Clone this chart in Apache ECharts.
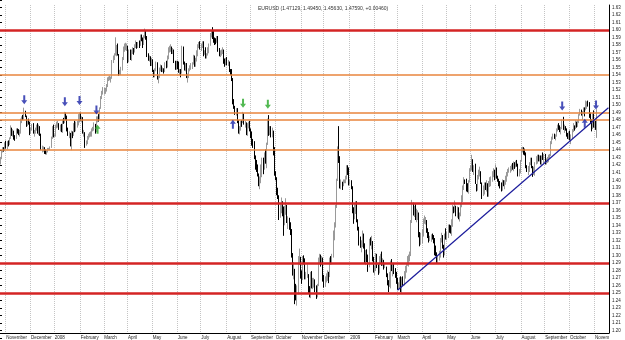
<!DOCTYPE html>
<html>
<head>
<meta charset="utf-8">
<script src="https://cdn.jsdelivr.net/npm/echarts@6/dist/echarts.min.js"></script>
<style>
html, body { margin: 0; padding: 0; background: #fff; }
#chart { width: 625px; height: 340px; }
</style>
</head>
<body>
<div id="chart"></div>
<script>
// EURUSD daily, 25 Oct 2007 .. 4 Nov 2009, values in pips above 1.0000
const titleText = 'EURUSD (1.47129, 1.49450, 1.45630, 1.47590, +0.00460)';
const firstOpenPips = 4230;

const closePips = [
  4295,4385,4420,4410,4490, // Oct 07
  4440,4500,4480,4560,4680,4620,4650,4580,4560,4670,4640,4630,4640,4800,4840,4810,4870,4850,4740,4800,4770,4630, // Nov 07
  4680,4740,4640,4640,4680,4720,4630,4710,4610,4420,4420,4420,4380,4360,4390,4410,4420,4440,4560,4710,4590, // Dec 07
  4590,4720,4750,4750,4690,4720,4660,4790,4770,4880,4850,4680,4620,4620,4480,4640,4620,4740,4660,4760,4780,4860,4860, // Jan 08
  4810,4830,4630,4630,4490,4500,4570,4590,4590,4600,4670,4690,4720,4650,4800,4830,4820,4960,5100,5170,5190, // Feb 08
  5190,5200,5260,5350,5350,5350,5360,5580,5640,5670,5740,5780,5680,5400,5440,5480,5620,5760,5770,5790,5790, // Mar 08
  5590,5720,5620,5720,5730,5720,5790,5810,5800,5810,5800,5920,5870,5810,5910,5990,5910,5670,5620,5640,5550,5610, // Apr 08
  5450,5380,5470,5560,5370,5380,5480,5500,5460,5470,5450,5550,5520,5640,5750,5760,5760,5710,5730,5580,5500,5550, // May 08
  5540,5450,5460,5430,5780,5570,5480,5540,5380,5390,5470,5510,5540,5560,5650,5530,5610,5690,5800,5820,5770, // Jun 08
  5800,5830,5690,5700,5650,5670,5700,5800,5940,5950,5940,5870,5860,5850,5910,5740,5680,5710,5710,5730,5580,5560,5600, // Jul 08
  5560,5560,5460,5440,5350,5030,4990,4910,4930,4780,4670,4700,4780,4770,4880,4760,4770,4630,4750,4760,4670, // Aug 08
  4640,4500,4470,4300,4260,4170,4080,3950,3970,4180,4280,4160,4340,4290,4490,4800,4600,4640,4620,4630,4410,4090, // Sep 08
  4030,3830,3790,3510,3610,3650,3530,3420,3610,3650,3450,3460,3390,3330,3000,2750,2850,2520,2480,2500,2940,2950,2730, // Oct 08
  2700,2970,2960,2710,2730,2740,2550,2500,2750,2580,2640,2640,2580,2500,2590,2930,3000,2930,2950,2690, // Nov 08
  2590,2700,2730,2740,2710,2940,2910,2980,3290,3380,3650,4000,4400,4260,3950,3950,3930,3980,3990,4040,4170,4140,3970, // Dec 08
  3980,3910,3600,3490,3620,3680,3480,3370,3170,3130,3150,3280,3130,2950,3010,2990,2830,3200,3160,3190,2950,2800, // Jan 09
  2810,3010,2850,2840,2960,3000,2920,2930,2850,2850,2740,2630,2580,2760,2900,2820,2880,2800,2770,2670, // Feb 09
  2590,2600,2660,2530,2670,2620,2770,2840,2890,2920,2950,3030,3450,3660,3580,3630,3520,3540,3550,3270,3190,3240, // Mar 09
  3280,3470,3480,3480,3340,3260,3220,3220,3270,3250,3200,3040,3030,2950,2960,3000,3200,3240,3120,3030,3260,3240, // Apr 09
  3270,3380,3350,3320,3450,3640,3580,3650,3560,3620,3500,3540,3660,3780,3890,4000,3980,3930,3870,3990,4140, // May 09
  4150,4270,4160,4190,3970,3880,4050,4080,4110,3970,3810,3860,3950,3890,3960,3810,3960,3980,4020,4090,4120,4030, // Jun 09
  4160,4040,4010,3950,3940,3860,3980,3940,3980,4000,4080,4130,4130,4160,4200,4160,4230,4200,4220,4210,4070,4120,4250, // Jul 09
  4410,4410,4390,4350,4180,4140,4150,4210,4280,4180,4080,4170,4230,4290,4330,4280,4300,4250,4310,4300,4340, // Aug 09
  4240,4260,4300,4300,4340,4500,4560,4600,4570,4600,4670,4720,4700,4680,4690,4790,4690,4700,4680,4610,4590,4640, // Sep 09
  4540,4570,4650,4720,4690,4760,4710,4780,4870,4920,4880,4900,4960,4940,5010,5030,5000,4860,4790,4700,4880,4720, // Oct 09
  4760,4713,4759 // Nov 09
];

const highPips = [
  4310,4395,4440,4440,4505,
  4525,4520,4530,4570,4730,4700,4680,4660,4600,4690,4690,4680,4670,4820,4850,4870,4966,4925,4860,4810,4820,4780,
  4700,4750,4760,4670,4700,4740,4760,4740,4720,4620,4460,4450,4440,4410,4400,4430,4430,4450,4580,4720,4740,
  4610,4740,4780,4790,4760,4740,4750,4810,4830,4910,4900,4860,4700,4650,4630,4660,4650,4760,4790,4780,4790,4880,4900,
  4900,4850,4840,4670,4640,4530,4590,4620,4640,4650,4690,4710,4770,4750,4850,4850,4880,4970,5120,5190,5240,
  5230,5230,5280,5370,5380,5390,5380,5600,5660,5690,5903,5800,5820,5680,5470,5510,5640,5780,5820,5830,5820,
  5790,5740,5740,5740,5770,5760,5810,5860,5840,5840,5860,5940,5940,5900,5930,6019,6000,5920,5690,5660,5650,5630,
  5610,5470,5490,5580,5570,5400,5500,5540,5530,5500,5490,5570,5590,5660,5770,5790,5810,5780,5760,5740,5590,5590,
  5590,5580,5480,5480,5790,5780,5580,5560,5560,5420,5490,5530,5560,5570,5670,5660,5630,5730,5810,5840,5850,
  5820,5850,5850,5730,5770,5690,5770,5820,5960,5990,6038,5990,5900,5890,5920,5920,5760,5730,5740,5770,5740,5620,5630,
  5640,5600,5580,5480,5480,5360,5080,4990,4960,4960,4800,4720,4790,4800,4910,4890,4790,4770,4760,4780,4790,
  4690,4650,4550,4520,4330,4270,4210,4090,4050,4210,4300,4300,4370,4410,4500,4820,4867,4720,4720,4700,4660,4440,
  4120,4040,3900,3800,3680,3770,3720,3650,3660,3760,3670,3520,3500,3440,3350,3030,2910,2820,2620,2600,2990,3090,2980,
  2800,2990,3000,2960,2780,2880,2750,2590,2780,2790,2700,2700,2680,2600,2620,2970,3020,3010,2990,2970,
  2740,2720,2760,2800,2780,2970,2990,3020,3330,3440,3670,4020,4450,4720,4320,4010,3980,4010,4010,4060,4200,4200,4170,
  4010,4000,3920,3640,3680,3720,3720,3480,3380,3250,3200,3330,3290,3160,3070,3080,3010,3220,3240,3260,3190,2980,
  2860,3030,3020,2880,2990,3020,3050,2960,2940,2900,2850,2760,2670,2780,2930,2950,2900,2900,2830,2780,
  2700,2640,2710,2720,2710,2720,2790,2860,2900,2990,3010,3050,3470,3738,3700,3660,3680,3620,3600,3570,3310,3300,
  3350,3490,3530,3510,3470,3360,3310,3260,3280,3290,3270,3230,3130,3040,3000,3060,3230,3300,3270,3140,3290,3360,
  3310,3410,3410,3400,3480,3670,3650,3730,3660,3650,3640,3570,3690,3800,3930,4040,4010,4020,3960,4000,4160,
  4200,4338,4280,4200,4220,3950,4070,4140,4180,4120,3970,3930,3970,3970,4000,3960,3990,4040,4050,4120,4160,4140,
  4210,4170,4060,4020,3990,3970,4010,4000,4000,4060,4110,4150,4170,4190,4210,4230,4250,4240,4260,4270,4220,4150,4270,
  4440,4445,4440,4420,4370,4200,4190,4240,4300,4300,4190,4180,4240,4320,4340,4340,4330,4330,4330,4370,4350,
  4350,4290,4310,4340,4350,4520,4580,4620,4620,4610,4690,4740,4760,4730,4710,4810,4844,4740,4720,4690,4630,4650,
  4660,4610,4680,4760,4730,4800,4780,4800,4880,4950,4940,4920,4970,4970,5061,5050,5060,5040,4900,4810,4890,4930,
  4810,4790,4945
];

const lowPips = [
  4210,4280,4370,4380,4390,
  4420,4410,4450,4470,4550,4590,4580,4540,4525,4550,4620,4600,4580,4620,4760,4800,4810,4840,4710,4720,4740,4600,
  4620,4660,4620,4580,4620,4660,4620,4600,4590,4400,4370,4380,4350,4345,4340,4370,4400,4400,4430,4550,4570,
  4580,4580,4690,4700,4670,4650,4640,4630,4750,4760,4800,4650,4590,4560,4450,4400,4560,4590,4640,4650,4700,4730,4770,
  4790,4770,4620,4580,4430,4460,4480,4540,4570,4580,4580,4650,4660,4620,4640,4770,4780,4810,4950,5080,5140,
  5140,5150,5180,5240,5320,5330,5300,5350,5560,5600,5660,5650,5660,5390,5400,5400,5460,5600,5710,5730,5720,
  5560,5570,5600,5590,5680,5670,5700,5760,5750,5760,5760,5790,5850,5760,5800,5890,5870,5640,5590,5580,5520,5520,
  5440,5370,5370,5450,5340,5290,5360,5450,5440,5440,5420,5440,5490,5500,5610,5700,5710,5680,5680,5560,5470,5470,
  5480,5430,5400,5370,5420,5540,5460,5450,5360,5300,5360,5450,5470,5480,5540,5510,5510,5580,5650,5760,5740,
  5720,5760,5650,5670,5620,5620,5660,5690,5790,5900,5880,5830,5800,5810,5830,5710,5650,5640,5660,5680,5550,5510,5530,
  5530,5520,5440,5400,5320,5010,4950,4870,4860,4760,4620,4610,4660,4710,4760,4740,4700,4600,4590,4690,4650,
  4560,4460,4430,4280,4140,4110,4050,3920,3880,3960,4040,4080,4140,4220,4160,4470,4590,4600,4570,4570,4330,4060,
  4000,3800,3750,3470,3500,3560,3520,3260,3400,3540,3430,3350,3340,3270,2970,2730,2680,2350,2400,2330,2480,2870,2690,
  2620,2670,2880,2680,2680,2700,2500,2440,2430,2560,2550,2570,2510,2420,2440,2590,2880,2850,2870,2650,
  2570,2580,2640,2660,2630,2710,2880,2880,2970,3200,3370,3630,3990,4230,3890,3880,3870,3920,3960,3960,4010,4070,3930,
  3940,3880,3560,3420,3480,3550,3440,3330,3130,3100,3040,3110,3090,2900,2870,2910,2780,2840,3130,3080,2920,2770,
  2740,2790,2830,2740,2760,2900,2860,2860,2810,2830,2710,2600,2510,2580,2560,2790,2720,2750,2700,2620,
  2540,2540,2550,2510,2500,2590,2600,2690,2770,2860,2850,2920,2990,3430,3530,3510,3470,3440,3470,3240,3120,3140,
  3160,3250,3420,3410,3300,3230,3170,3190,3180,3210,3160,3000,2990,2900,2885,2930,2970,3170,3090,2970,3000,3210,
  3200,3230,3300,3290,3260,3380,3560,3570,3520,3500,3480,3450,3520,3640,3710,3870,3950,3850,3840,3820,3970,
  4120,4130,4110,4070,3950,3850,3860,4010,4050,3950,3750,3790,3810,3870,3850,3780,3780,3910,3920,3980,4040,4000,
  4020,4020,3980,3920,3890,3850,3860,3920,3880,3940,3980,4050,4100,4100,4120,4140,4120,4150,4170,4180,4050,4050,4090,
  4250,4370,4340,4330,4160,4110,4070,4110,4200,4160,4045,4070,4060,4210,4220,4250,4250,4210,4190,4270,4220,
  4210,4210,4230,4240,4290,4320,4480,4540,4550,4530,4580,4650,4670,4640,4610,4680,4670,4630,4660,4580,4550,4540,
  4530,4480,4550,4640,4660,4680,4700,4710,4760,4860,4860,4800,4880,4850,4930,4950,4980,4830,4750,4650,4680,4700,
  4690,4670,4563
];

// x-axis month labels, in order of the month starts
const monthLabels = ['November','December','2008','February','March','April','May','June','July','August',
  'September','October','November','December','2009','February','March','April','May','June','July',
  'August','September','October','Novem'];

// horizontal levels
const redLevels = [1.60, 1.37, 1.29, 1.25];
const orangeLevels = [1.54, 1.4875, 1.4785, 1.44];
// trend line [day index, price]
const trendStart = [352, 1.2535];
const trendEnd = [539, 1.4965];

// signal arrows [day index, price]
const blueDown = [[21, 1.507], [57, 1.5046], [70, 1.506], [85, 1.4935], [498, 1.4989], [528, 1.5002]];
const blueUp = [[206, 1.4745], [518, 1.4758]];
const greenDown = [[215, 1.5024], [237, 1.5011]];
const greenUp = [[86, 1.4679]];

// trading days (weekdays), plus empty space at the right edge
const totalSlots = 540;
const dates = [];
let t = Date.UTC(2007, 9, 25);
while (dates.length < totalSlots) {
  const d = new Date(t);
  const wd = d.getUTCDay();
  if (wd !== 0 && wd !== 6) dates.push(d.toISOString().slice(0, 10));
  t += 86400000;
}

const candles = closePips.map(function (c, i) {
  const o = i ? closePips[i - 1] : firstOpenPips;
  return [1 + o / 10000, 1 + c / 10000, 1 + lowPips[i] / 10000, 1 + highPips[i] / 10000];
});

const monthStartIdx = [];
for (let i = 1; i < dates.length; i++) {
  if (dates[i].slice(5, 7) !== dates[i - 1].slice(5, 7)) monthStartIdx.push(i);
}
function isMonthStart(i) { return monthStartIdx.indexOf(i) >= 0; }
function isWeekStart(i) { return i > 0 && new Date(dates[i] + 'T00:00:00Z').getUTCDay() === 1; }

const downPath = 'path://M2,0 L4,0 L4,5 L6,5 L3,9 L0,5 L2,5 Z';
const upPath = 'path://M3,0 L6,4 L4,4 L4,9 L2,9 L2,4 L0,4 Z';
function arrows(data, path, color) {
  return {
    type: 'scatter', data: data, symbol: path, symbolSize: [6, 9],
    itemStyle: { color: color }, z: 5, silent: true
  };
}

const chart = echarts.init(document.getElementById('chart'));
chart.setOption({
  animation: false,
  backgroundColor: '#fff',
  title: {
    text: titleText, left: 253, top: 1,
    textStyle: { fontSize: 5, fontWeight: 'normal', color: '#333', fontFamily: 'Arial' }
  },
  grid: [
    { left: 0, right: 16, top: 5, bottom: 7 },
    { left: 0, right: 16, top: 0, bottom: 2 }
  ],
  xAxis: [
    {
      type: 'category', data: dates, gridIndex: 0, boundaryGap: true,
      axisLine: { lineStyle: { color: '#000', width: 1 } },
      axisTick: { interval: function (i) { return isWeekStart(i); }, length: 2, lineStyle: { color: '#000' } },
      axisLabel: {
        interval: function (i) { return isMonthStart(i); },
        formatter: function (v, i) {
          const k = monthStartIdx.indexOf(i);
          return k >= 0 ? monthLabels[k] : '';
        },
        fontSize: 4.5, align: 'left', margin: 2, color: '#222', fontFamily: 'Arial'
      },
      splitLine: {
        show: true, interval: function (i) { return isMonthStart(i); },
        lineStyle: { color: '#c4c4c4', type: 'dotted', width: 1 }
      }
    },
    { type: 'value', gridIndex: 1, show: false }
  ],
  yAxis: [
    {
      type: 'value', gridIndex: 0, position: 'right', min: 1.19659, max: 1.63328, scale: true,
      axisLine: { show: true, lineStyle: { color: '#000' } },
      axisTick: { show: false }, axisLabel: { show: false }, splitLine: { show: false }
    },
    {
      type: 'value', gridIndex: 1, position: 'right', min: 1.19, max: 1.64, interval: 0.01,
      axisLine: { show: false },
      axisTick: { show: true, length: 2, lineStyle: { color: '#000' } },
      axisLabel: {
        fontSize: 4.5, margin: 3, color: '#222', fontFamily: 'Arial',
        formatter: function (v) { return (v < 1.195 || v > 1.635) ? '' : v.toFixed(2); }
      },
      splitLine: { show: false }
    }
  ],
  series: [
    {
      type: 'candlestick', data: candles, xAxisIndex: 0, yAxisIndex: 0,
      itemStyle: { color: '#fff', color0: '#000', borderColor: '#9a9a9a', borderColor0: '#000', borderWidth: 1 },
      markLine: {
        silent: true, symbol: ['none', 'none'], label: { show: false }, animation: false,
        data: redLevels.map(function (v) {
          return { yAxis: v, lineStyle: { color: '#d42424', width: 2.5, type: 'solid' } };
        }).concat(orangeLevels.map(function (v) {
          return { yAxis: v, lineStyle: { color: '#e8843c', width: 1.5, type: 'solid' } };
        })).concat([[
          { coord: trendStart, lineStyle: { color: '#1c1c9c', width: 1.2, type: 'solid' } },
          { coord: trendEnd, lineStyle: { color: '#1c1c9c', width: 1.2, type: 'solid' } }
        ]])
      }
    },
    arrows(blueDown, downPath, '#1a24a8'),
    arrows(blueUp, upPath, '#1a24a8'),
    arrows(greenDown, downPath, '#27a827'),
    arrows(greenUp, upPath, '#27a827')
  ]
});
</script>
</body>
</html>
